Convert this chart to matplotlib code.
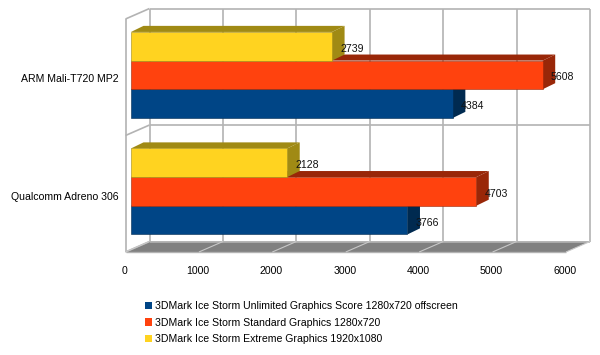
# plot.py
# 3D looking horizontal bar chart of 3DMark Ice Storm scores
import matplotlib
matplotlib.use("Agg")
import matplotlib.pyplot as plt
from matplotlib.patches import Polygon, Patch

plt.rcParams["font.family"] = ["Liberation Sans", "DejaVu Sans"]

categories = ["ARM Mali-T720 MP2", "Qualcomm Adreno 306"]
unlimited = [4384, 3766]
standard = [5608, 4703]
extreme = [2739, 2128]
series_names = [
    "3DMark Ice Storm Unlimited Graphics Score 1280x720 offscreen",
    "3DMark Ice Storm Standard Graphics 1280x720",
    "3DMark Ice Storm Extreme Graphics 1920x1080",
]
x_ticks = [0, 1000, 2000, 3000, 4000, 5000, 6000]

# front, dark side colours for each series (drawn bottom to top in a group)
front_colors = ["#004586", "#ff420e", "#ffd320"]
side_colors = ["#002a50", "#992708", "#a08a14"]

GRID = "#b3b3b3"
FONT = 7.6

# depth of the walls and of the bars, in data units
WALL_DX, WALL_DY = 327, 0.09
BAR_DX, BAR_DY = 170, 0.052
BAR_START = 75
BAR_H = 0.246

fig = plt.figure(figsize=(6, 3.55), dpi=100)
ax = fig.add_axes([125.5 / 600, 103 / 355, 440.5 / 600, 233 / 355])
ax.set_xlim(0, 6000)
ax.set_ylim(0, 2)
ax.axis("off")


def line(xs, ys, color=GRID, lw=1.2, z=1):
    ax.plot(xs, ys, color=color, lw=lw, clip_on=False, zorder=z, solid_capstyle="butt")


# floor
ax.add_patch(Polygon([(0, 0), (6000, 0), (6000 + WALL_DX, WALL_DY), (WALL_DX, WALL_DY)],
                     closed=True, facecolor="#808080", edgecolor="none", clip_on=False, zorder=1))

# back wall and floor grid lines
for t in x_ticks:
    line([t + WALL_DX, t + WALL_DX], [WALL_DY, 2 + WALL_DY])
    line([t, t + WALL_DX], [0, WALL_DY], color="#c8c8c8", lw=0.8, z=2)
for level in [0, 1, 2]:
    line([WALL_DX, 6000 + WALL_DX], [level + WALL_DY, level + WALL_DY])
    line([0, WALL_DX], [level, level + WALL_DY])
line([0, 0], [0, 2])
line([0, 6000], [0, 0], lw=1.0)

# bars, one group per category
for g in range(len(categories)):
    center = len(categories) - 1 - g + 0.52
    values = [unlimited[g], standard[g], extreme[g]]
    for s, value in enumerate(values):
        x0 = BAR_START
        x1 = BAR_START + value
        y0 = center - 1.5 * BAR_H + s * BAR_H
        y1 = y0 + BAR_H
        z = 3 + s
        # top face
        ax.add_patch(Polygon([(x0, y1), (x1, y1), (x1 + BAR_DX, y1 + BAR_DY), (x0 + BAR_DX, y1 + BAR_DY)],
                             closed=True, facecolor=side_colors[s], edgecolor="none", zorder=z))
        # side face
        ax.add_patch(Polygon([(x1, y0), (x1 + BAR_DX, y0 + BAR_DY), (x1 + BAR_DX, y1 + BAR_DY), (x1, y1)],
                             closed=True, facecolor=side_colors[s], edgecolor="none", zorder=z))
        # front face
        ax.barh(y0, value, height=BAR_H, left=x0, align="edge", color=front_colors[s],
                edgecolor=side_colors[s], linewidth=0.4, zorder=z + 0.5)
        ax.annotate(str(value), (x1, (y0 + y1) / 2), xytext=(8, -2.5), textcoords="offset pixels",
                    fontsize=FONT, color="#111111", va="center", ha="left", zorder=10)

# axis texts
for t in x_ticks:
    ax.annotate(str(t), (t, 0), xytext=(-1, -18.5), textcoords="offset pixels",
                fontsize=FONT, ha="center", va="center", annotation_clip=False)
label_shift = [-2, -3]
for g, name in enumerate(categories):
    ax.annotate(name, (0, len(categories) - 1 - g + 0.5), xytext=(-7, label_shift[g]), textcoords="offset pixels",
                fontsize=FONT, ha="right", va="center", annotation_clip=False)

# legend
handles = [Patch(facecolor=c, edgecolor="none", label=n) for c, n in zip(front_colors, series_names)]
fig.legend(handles=handles, loc="upper left", bbox_to_anchor=(143 / 600, 1 - 299 / 355), frameon=False,
           fontsize=FONT, handlelength=0.66, handleheight=0.66, handletextpad=0.29,
           labelspacing=0.62, borderpad=0.2, borderaxespad=0)

fig.savefig("out.png", dpi=100)
plt.close(fig)
